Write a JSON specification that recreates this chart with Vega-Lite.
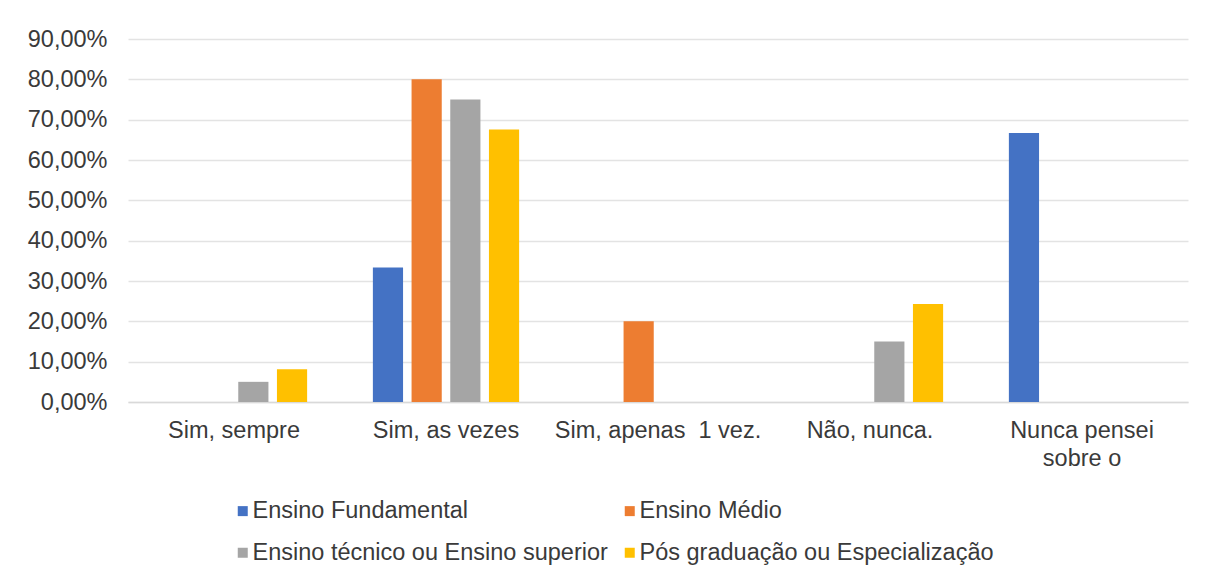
{
  "$schema": "https://vega.github.io/schema/vega-lite/v6.json",
  "width": 1060,
  "height": 363,
  "autosize": {"type": "none"},
  "padding": {"left": 128, "top": 39, "right": 17, "bottom": 176},
  "background": "white",
  "data": {
    "values": [
      {"cat": "Sim, sempre", "grupo": "Ensino Fundamental", "v": 0},
      {"cat": "Sim, sempre", "grupo": "Ensino Médio", "v": 0},
      {"cat": "Sim, sempre", "grupo": "Ensino técnico ou Ensino superior", "v": 0.05},
      {"cat": "Sim, sempre", "grupo": "Pós graduação ou Especialização", "v": 0.0811},
      {"cat": "Sim, as vezes", "grupo": "Ensino Fundamental", "v": 0.3333},
      {"cat": "Sim, as vezes", "grupo": "Ensino Médio", "v": 0.8},
      {"cat": "Sim, as vezes", "grupo": "Ensino técnico ou Ensino superior", "v": 0.75},
      {"cat": "Sim, as vezes", "grupo": "Pós graduação ou Especialização", "v": 0.6757},
      {"cat": "Sim, apenas \u00a01 vez.", "grupo": "Ensino Fundamental", "v": 0},
      {"cat": "Sim, apenas \u00a01 vez.", "grupo": "Ensino Médio", "v": 0.2},
      {"cat": "Sim, apenas \u00a01 vez.", "grupo": "Ensino técnico ou Ensino superior", "v": 0},
      {"cat": "Sim, apenas \u00a01 vez.", "grupo": "Pós graduação ou Especialização", "v": 0},
      {"cat": "Não, nunca.", "grupo": "Ensino Fundamental", "v": 0},
      {"cat": "Não, nunca.", "grupo": "Ensino Médio", "v": 0},
      {"cat": "Não, nunca.", "grupo": "Ensino técnico ou Ensino superior", "v": 0.15},
      {"cat": "Não, nunca.", "grupo": "Pós graduação ou Especialização", "v": 0.2432},
      {"cat": "Nunca pensei sobre o", "grupo": "Ensino Fundamental", "v": 0.6667},
      {"cat": "Nunca pensei sobre o", "grupo": "Ensino Médio", "v": 0},
      {"cat": "Nunca pensei sobre o", "grupo": "Ensino técnico ou Ensino superior", "v": 0},
      {"cat": "Nunca pensei sobre o", "grupo": "Pós graduação ou Especialização", "v": 0}
    ]
  },
  "mark": {"type": "bar", "strokeWidth": 0},
  "encoding": {
    "x": {
      "field": "cat",
      "type": "nominal",
      "sort": null,
      "title": null,
      "scale": {"paddingInner": 0.27, "paddingOuter": 0.135},
      "axis": {
        "labelAngle": 0,
        "labelFont": "Liberation Sans",
        "labelFontSize": 23.5,
        "labelColor": "#3a3a3a",
        "labelPadding": 16,
        "labelLineHeight": 28,
        "labelLimit": 400,
        "ticks": false,
        "domainColor": "#d9d9d9",
        "domainWidth": 1.5,
        "labelExpr": "datum.label == 'Nunca pensei sobre o' ? ['Nunca pensei', 'sobre o'] : datum.label"
      }
    },
    "xOffset": {
      "field": "grupo",
      "type": "nominal",
      "sort": null,
      "scale": {"paddingInner": 0.22, "paddingOuter": 0.11}
    },
    "y": {
      "field": "v",
      "type": "quantitative",
      "title": null,
      "scale": {"domain": [0, 0.9], "nice": false},
      "axis": {
        "values": [0, 0.1, 0.2, 0.3, 0.4, 0.5, 0.6, 0.7, 0.8, 0.9],
        "labelExpr": "replace(format(datum.value * 100, '.2f'), '.', ',') + '%'",
        "labelFont": "Liberation Sans",
        "labelFontSize": 23.5,
        "labelColor": "#3a3a3a",
        "labelPadding": 21,
        "ticks": false,
        "domain": false,
        "gridColor": "#e3e3e3",
        "gridWidth": 1.5
      }
    },
    "color": {
      "field": "grupo",
      "type": "nominal",
      "sort": null,
      "title": null,
      "scale": {
        "domain": ["Ensino Fundamental", "Ensino Médio", "Ensino técnico ou Ensino superior", "Pós graduação ou Especialização"],
        "range": ["#4472C4", "#ED7D31", "#A5A5A5", "#FFC000"]
      },
      "legend": {
        "orient": "none",
        "legendX": 103,
        "legendY": 460,
        "direction": "horizontal",
        "columns": 2,
        "padding": 0,
        "symbolType": "square",
        "symbolSize": 100,
        "symbolStrokeWidth": 0,
        "labelFont": "Liberation Sans",
        "labelFontSize": 23.5,
        "labelColor": "#3a3a3a",
        "labelOffset": -2,
        "labelLimit": 500,
        "columnPadding": 10,
        "rowPadding": 17
      }
    }
  },
  "config": {"view": {"stroke": null}}
}
